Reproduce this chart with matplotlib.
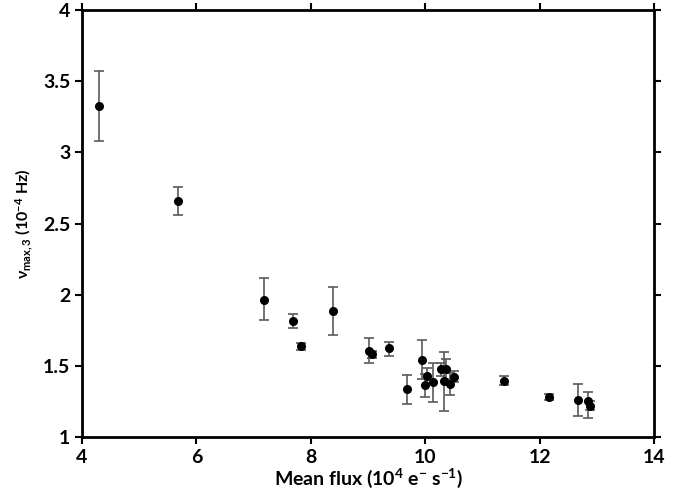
import numpy as np
from matplotlib import pyplot as plt

# mean flux (1e4 e-/s), nu_max,3 (1e-4 Hz), lower / upper error bar ends
flux = [4.29, 5.67, 7.18, 7.68, 7.82, 8.38, 9.02, 9.07, 9.37, 9.68,
        9.95, 9.99, 10.03, 10.14, 10.28, 10.32, 10.36, 10.44, 10.50,
        11.37, 12.16, 12.67, 12.85, 12.88]
numax = [3.325, 2.655, 1.965, 1.815, 1.638, 1.887, 1.606, 1.583, 1.623, 1.335,
         1.543, 1.363, 1.426, 1.384, 1.478, 1.391, 1.476, 1.370, 1.424,
         1.396, 1.281, 1.262, 1.250, 1.220]
err_lo = [3.08, 2.56, 1.82, 1.764, 1.611, 1.719, 1.518, 1.555, 1.569, 1.234,
          1.405, 1.283, 1.375, 1.248, 1.43, 1.183, 1.41, 1.293, 1.386,
          1.363, 1.258, 1.15, 1.133, 1.19]
err_hi = [3.57, 2.754, 2.116, 1.866, 1.663, 2.052, 1.693, 1.606, 1.670, 1.438,
          1.684, 1.44, 1.485, 1.52, 1.52, 1.595, 1.546, 1.45, 1.462,
          1.426, 1.30, 1.375, 1.314, 1.25]

xticks = [4, 6, 8, 10, 12, 14]
yticks = [1, 1.5, 2, 2.5, 3, 3.5, 4]
ytick_labels = ['1', '1.5', '2', '2.5', '3', '3.5', '4']

plt.rcParams['font.family'] = ['Lato', 'DejaVu Sans']
plt.rcParams['mathtext.fontset'] = 'custom'
plt.rcParams['mathtext.rm'] = 'Lato:bold'
plt.rcParams['mathtext.it'] = 'Lato:bold'
plt.rcParams['mathtext.bf'] = 'Lato:bold'
plt.rcParams['mathtext.default'] = 'rm'

fig = plt.figure(figsize=(6.79, 4.97), dpi=100)
ax = fig.add_axes([0.1208, 0.1207, 0.8424, 0.8592])

x = np.array(flux)
y = np.array(numax)
yerr = np.array([y - np.array(err_lo), np.array(err_hi) - y])
ax.errorbar(x, y, yerr=yerr, fmt='none', ecolor='#5a5a5a', elinewidth=1.2,
            capsize=3.8, capthick=1.2, zorder=2)
ax.plot(x, y, 'o', color='black', markersize=5.5, zorder=3)

ax.set_xlim(4, 14)
ax.set_ylim(1, 4)
ax.set_xticks(xticks)
ax.set_yticks(yticks)
ax.set_yticklabels(ytick_labels)
for s in ax.spines.values():
    s.set_linewidth(2)
ax.tick_params(direction='out', length=5, width=1.5, labelsize=14,
               top=True, right=True)
for lab in ax.get_xticklabels() + ax.get_yticklabels():
    lab.set_fontweight('bold')

ax.set_xlabel(r'Mean flux (10$^{4}$ e$^{-}$ s$^{-1}$)', fontsize=14,
              fontweight='bold', labelpad=1)
ax.set_ylabel(r'$\nu_{max,3}$ (10$^{-4}$ Hz)', fontsize=11.5,
              fontweight='bold', labelpad=6)

plt.savefig('out.png', dpi=100)
